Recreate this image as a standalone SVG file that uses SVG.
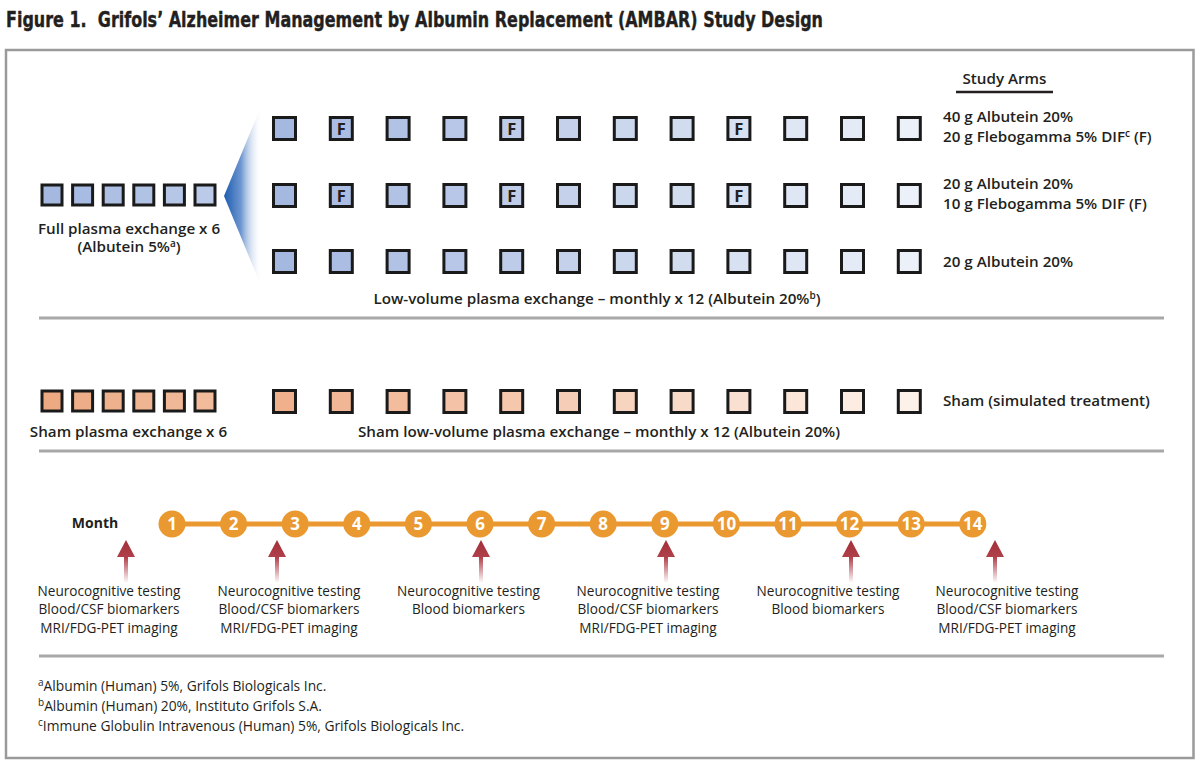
<svg xmlns="http://www.w3.org/2000/svg" width="1200" height="768" viewBox="0 0 1200 768">
<style>
.t{font-family:"Open Sans","Noto Sans","DejaVu Sans",sans-serif;fill:#231f20}
.sb{font-weight:600;font-size:15.2px}
.rg{font-weight:400;font-size:13.6px}
.fn{font-weight:400;font-size:13.8px}
.sq{stroke:#1a1a1a;stroke-width:3}
.sep{stroke:#a8a8a8;stroke-width:3}
.num{font-family:"Open Sans","Noto Sans",sans-serif;font-weight:700;font-size:17px;fill:#fff;text-anchor:middle}
.F{font-family:"Open Sans","Noto Sans",sans-serif;font-weight:700;font-size:16.5px;fill:#231f20;text-anchor:middle}
.c{text-anchor:middle}
</style>
<defs>
<linearGradient id="fan" x1="0" y1="0" x2="1" y2="0">
<stop offset="0" stop-color="#1d5cb0"/>
<stop offset="0.45" stop-color="#6f97d0"/>
<stop offset="1" stop-color="#ffffff" stop-opacity="0"/>
</linearGradient>
<linearGradient id="arr" x1="0" y1="0" x2="0" y2="1">
<stop offset="0" stop-color="#a12f38"/>
<stop offset="0.4" stop-color="#b0404a"/>
<stop offset="1" stop-color="#ffffff"/>
</linearGradient>
<path id="arrow" d="M0,0 L9,17 L2,17 L2,43 L-2,43 L-2,17 L-9,17 Z" fill="url(#arr)"/>
</defs>
<rect width="1200" height="768" fill="#fff"/>
<text x="6" y="27" xml:space="preserve" font-family="'Liberation Sans Narrow','DejaVu Sans Condensed','Liberation Sans',sans-serif" font-weight="700" font-size="22" fill="#231f20" stroke="#231f20" stroke-width="0.4" textLength="817" lengthAdjust="spacingAndGlyphs">Figure 1.  Grifols’ Alzheimer Management by Albumin Replacement (AMBAR) Study Design</text>
<rect x="6" y="50" width="1187.5" height="708" fill="none" stroke="#9a9a9a" stroke-width="2.5"/>
<g id="separators">
<line class="sep" x1="39" y1="318" x2="1164" y2="318"/>
<line class="sep" x1="39" y1="451" x2="1164" y2="451"/>
<line class="sep" x1="39" y1="656" x2="1164" y2="656"/>
</g>
<g id="full-exchange">
<rect class="sq" x="42" y="185" width="20" height="20" fill="#a4b8e0"/>
<rect class="sq" x="72.6" y="185" width="20" height="20" fill="#a8bbe2"/>
<rect class="sq" x="103.2" y="185" width="20" height="20" fill="#adbfe3"/>
<rect class="sq" x="133.8" y="185" width="20" height="20" fill="#b1c3e5"/>
<rect class="sq" x="164.4" y="185" width="20" height="20" fill="#b5c6e6"/>
<rect class="sq" x="195" y="185" width="20" height="20" fill="#bacae8"/>
<text class="t sb c" x="129" y="234">Full plasma exchange x 6</text>
<text class="t sb c" x="129" y="252">(Albutein 5%<tspan font-size="10" dy="-5">a</tspan><tspan dy="5">)</tspan></text>
</g>
<g id="fan-shape">
<polygon points="224,196 262,104 262,288" fill="url(#fan)"/>
</g>
<g id="arm1">
<rect class="sq" x="273.5" y="117.5" width="22" height="22" fill="#a4b8e0"/>
<rect class="sq" x="330.3" y="117.5" width="22" height="22" fill="#abbde2"/>
<rect class="sq" x="387.1" y="117.5" width="22" height="22" fill="#b1c2e4"/>
<rect class="sq" x="443.9" y="117.5" width="22" height="22" fill="#b8c7e7"/>
<rect class="sq" x="500.7" y="117.5" width="22" height="22" fill="#becce9"/>
<rect class="sq" x="557.5" y="117.5" width="22" height="22" fill="#c5d1eb"/>
<rect class="sq" x="614.3" y="117.5" width="22" height="22" fill="#cbd7ed"/>
<rect class="sq" x="671.1" y="117.5" width="22" height="22" fill="#d2dcef"/>
<rect class="sq" x="727.9" y="117.5" width="22" height="22" fill="#d8e1f1"/>
<rect class="sq" x="784.7" y="117.5" width="22" height="22" fill="#dfe6f4"/>
<rect class="sq" x="841.5" y="117.5" width="22" height="22" fill="#e5ebf6"/>
<rect class="sq" x="898.3" y="117.5" width="22" height="22" fill="#ecf0f8"/>
<text class="F" x="341.3" y="134.5">F</text>
<text class="F" x="511.7" y="134.5">F</text>
<text class="F" x="738.9" y="134.5">F</text>
<text class="t sb" x="943" y="122">40 g Albutein 20%</text>
<text class="t sb" x="943" y="142">20 g Flebogamma 5% DIF<tspan font-size="10" dy="-5">c</tspan><tspan dy="5"> (F)</tspan></text>
</g>
<g id="arm2">
<rect class="sq" x="273.5" y="184.5" width="22" height="22" fill="#a4b8e0"/>
<rect class="sq" x="330.3" y="184.5" width="22" height="22" fill="#abbde2"/>
<rect class="sq" x="387.1" y="184.5" width="22" height="22" fill="#b1c2e4"/>
<rect class="sq" x="443.9" y="184.5" width="22" height="22" fill="#b8c7e7"/>
<rect class="sq" x="500.7" y="184.5" width="22" height="22" fill="#becce9"/>
<rect class="sq" x="557.5" y="184.5" width="22" height="22" fill="#c5d1eb"/>
<rect class="sq" x="614.3" y="184.5" width="22" height="22" fill="#cbd7ed"/>
<rect class="sq" x="671.1" y="184.5" width="22" height="22" fill="#d2dcef"/>
<rect class="sq" x="727.9" y="184.5" width="22" height="22" fill="#d8e1f1"/>
<rect class="sq" x="784.7" y="184.5" width="22" height="22" fill="#dfe6f4"/>
<rect class="sq" x="841.5" y="184.5" width="22" height="22" fill="#e5ebf6"/>
<rect class="sq" x="898.3" y="184.5" width="22" height="22" fill="#ecf0f8"/>
<text class="F" x="341.3" y="201.5">F</text>
<text class="F" x="511.7" y="201.5">F</text>
<text class="F" x="738.9" y="201.5">F</text>
<text class="t sb" x="943" y="189">20 g Albutein 20%</text>
<text class="t sb" x="943" y="209">10 g Flebogamma 5% DIF (F)</text>
</g>
<g id="arm3">
<rect class="sq" x="273.5" y="250.5" width="22" height="22" fill="#a4b8e0"/>
<rect class="sq" x="330.3" y="250.5" width="22" height="22" fill="#abbde2"/>
<rect class="sq" x="387.1" y="250.5" width="22" height="22" fill="#b1c2e4"/>
<rect class="sq" x="443.9" y="250.5" width="22" height="22" fill="#b8c7e7"/>
<rect class="sq" x="500.7" y="250.5" width="22" height="22" fill="#becce9"/>
<rect class="sq" x="557.5" y="250.5" width="22" height="22" fill="#c5d1eb"/>
<rect class="sq" x="614.3" y="250.5" width="22" height="22" fill="#cbd7ed"/>
<rect class="sq" x="671.1" y="250.5" width="22" height="22" fill="#d2dcef"/>
<rect class="sq" x="727.9" y="250.5" width="22" height="22" fill="#d8e1f1"/>
<rect class="sq" x="784.7" y="250.5" width="22" height="22" fill="#dfe6f4"/>
<rect class="sq" x="841.5" y="250.5" width="22" height="22" fill="#e5ebf6"/>
<rect class="sq" x="898.3" y="250.5" width="22" height="22" fill="#ecf0f8"/>
<text class="t sb" x="943" y="267">20 g Albutein 20%</text>
</g>
<g id="study-arms-header">
<text class="t sb c" x="1004.5" y="84">Study Arms</text>
<line x1="956" y1="92" x2="1053" y2="92" stroke="#231f20" stroke-width="2.5"/>
</g>
<text id="low-volume-label" class="t sb c" x="597" y="304">Low-volume plasma exchange – monthly x 12 (Albutein 20%<tspan font-size="10" dy="-5">b</tspan><tspan dy="5">)</tspan></text>
<g id="sham-exchange">
<rect class="sq" x="42" y="391" width="20" height="20" fill="#eca982"/>
<rect class="sq" x="72.6" y="391" width="20" height="20" fill="#edad88"/>
<rect class="sq" x="103.2" y="391" width="20" height="20" fill="#eeb18d"/>
<rect class="sq" x="133.8" y="391" width="20" height="20" fill="#efb492"/>
<rect class="sq" x="164.4" y="391" width="20" height="20" fill="#f0b897"/>
<rect class="sq" x="195" y="391" width="20" height="20" fill="#f2bc9c"/>
<text class="t sb c" x="128.5" y="437">Sham plasma exchange x 6</text>
</g>
<g id="sham-monthly">
<rect class="sq" x="273.5" y="390.5" width="22" height="22" fill="#f0b08c"/>
<rect class="sq" x="330.3" y="390.5" width="22" height="22" fill="#f1b695"/>
<rect class="sq" x="387.1" y="390.5" width="22" height="22" fill="#f2bc9d"/>
<rect class="sq" x="443.9" y="390.5" width="22" height="22" fill="#f4c2a6"/>
<rect class="sq" x="500.7" y="390.5" width="22" height="22" fill="#f5c8ae"/>
<rect class="sq" x="557.5" y="390.5" width="22" height="22" fill="#f6ceb7"/>
<rect class="sq" x="614.3" y="390.5" width="22" height="22" fill="#f7d4bf"/>
<rect class="sq" x="671.1" y="390.5" width="22" height="22" fill="#f8dac8"/>
<rect class="sq" x="727.9" y="390.5" width="22" height="22" fill="#f9e0d0"/>
<rect class="sq" x="784.7" y="390.5" width="22" height="22" fill="#fbe6d9"/>
<rect class="sq" x="841.5" y="390.5" width="22" height="22" fill="#fcece1"/>
<rect class="sq" x="898.3" y="390.5" width="22" height="22" fill="#fdf2ea"/>
<text class="t sb" x="943" y="406">Sham (simulated treatment)</text>
<text class="t sb c" x="599" y="437">Sham low-volume plasma exchange – monthly x 12 (Albutein 20%)</text>
</g>
<g id="timeline">
<text class="t c" x="95" y="528" font-weight="700" font-size="14">Month</text>
<line x1="172" y1="524" x2="973" y2="524" stroke="#ea9830" stroke-width="5"/>
<g fill="#ea9830">
<circle cx="172" cy="524" r="13.5"/><circle cx="233.6" cy="524" r="13.5"/><circle cx="295.2" cy="524" r="13.5"/><circle cx="356.8" cy="524" r="13.5"/><circle cx="418.4" cy="524" r="13.5"/><circle cx="480" cy="524" r="13.5"/><circle cx="541.6" cy="524" r="13.5"/><circle cx="603.2" cy="524" r="13.5"/><circle cx="664.8" cy="524" r="13.5"/><circle cx="726.4" cy="524" r="13.5"/><circle cx="788" cy="524" r="13.5"/><circle cx="849.6" cy="524" r="13.5"/><circle cx="911.2" cy="524" r="13.5"/><circle cx="972.8" cy="524" r="13.5"/>
</g>
<text class="num" x="172" y="530">1</text><text class="num" x="233.6" y="530">2</text><text class="num" x="295.2" y="530">3</text><text class="num" x="356.8" y="530">4</text><text class="num" x="418.4" y="530">5</text><text class="num" x="480" y="530">6</text><text class="num" x="541.6" y="530">7</text><text class="num" x="603.2" y="530">8</text><text class="num" x="664.8" y="530">9</text><text class="num" x="726.4" y="530">10</text><text class="num" x="788" y="530">11</text><text class="num" x="849.6" y="530">12</text><text class="num" x="911.2" y="530">13</text><text class="num" x="972.8" y="530">14</text>
</g>
<g id="connectors">
<use href="#arrow" x="126" y="540"/>
<use href="#arrow" x="277" y="540"/>
<use href="#arrow" x="481" y="540"/>
<use href="#arrow" x="666" y="540"/>
<use href="#arrow" x="851" y="540"/>
<use href="#arrow" x="995" y="540"/>
</g>
<g id="assess1" class="t rg c"><text x="109" y="596">Neurocognitive testing</text><text x="109" y="614">Blood/CSF biomarkers</text><text x="109" y="633">MRI/FDG-PET imaging</text></g>
<g id="assess2" class="t rg c"><text x="289" y="596">Neurocognitive testing</text><text x="289" y="614">Blood/CSF biomarkers</text><text x="289" y="633">MRI/FDG-PET imaging</text></g>
<g id="assess3" class="t rg c"><text x="468.5" y="596">Neurocognitive testing</text><text x="468.5" y="614">Blood biomarkers</text></g>
<g id="assess4" class="t rg c"><text x="648" y="596">Neurocognitive testing</text><text x="648" y="614">Blood/CSF biomarkers</text><text x="648" y="633">MRI/FDG-PET imaging</text></g>
<g id="assess5" class="t rg c"><text x="828" y="596">Neurocognitive testing</text><text x="828" y="614">Blood biomarkers</text></g>
<g id="assess6" class="t rg c"><text x="1007" y="596">Neurocognitive testing</text><text x="1007" y="614">Blood/CSF biomarkers</text><text x="1007" y="633">MRI/FDG-PET imaging</text></g>
<g id="footnotes" class="t fn">
<text x="38" y="691"><tspan font-size="10" dy="-5">a</tspan><tspan dy="5">Albumin (Human) 5%, Grifols Biologicals Inc.</tspan></text>
<text x="38" y="711"><tspan font-size="10" dy="-5">b</tspan><tspan dy="5">Albumin (Human) 20%, Instituto Grifols S.A.</tspan></text>
<text x="38" y="731"><tspan font-size="10" dy="-5">c</tspan><tspan dy="5">Immune Globulin Intravenous (Human) 5%, Grifols Biologicals Inc.</tspan></text>
</g>
</svg>
